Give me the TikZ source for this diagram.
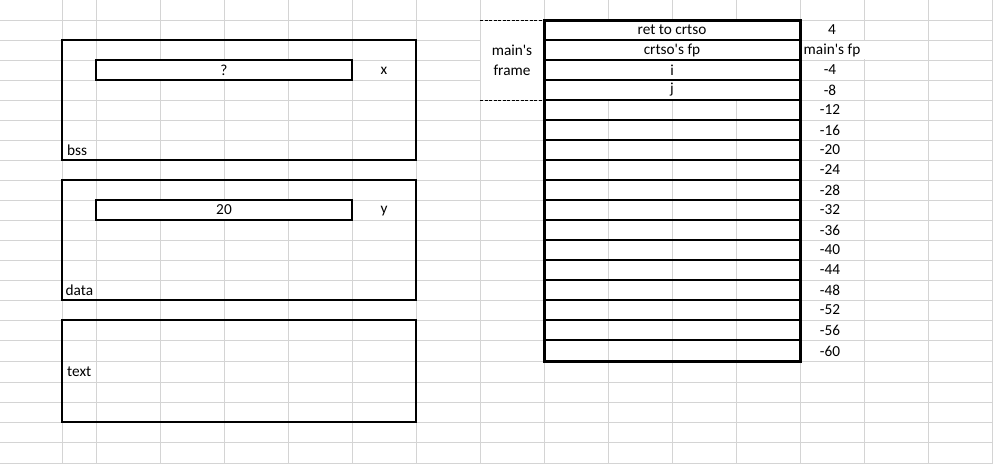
\documentclass[tikz,border=0pt]{standalone}
\usepackage{fontspec}
\newfontfamily\xlfont{Carlito}
\definecolor{gridgray}{RGB}{212,212,212}
\begin{document}
\begin{tikzpicture}[x=1pt,y=-1pt,
  gridline/.style={draw=gridgray,line width=1pt},
  thinbox/.style={draw=black,line width=1.2pt},
  thickbox/.style={draw=black,line width=3pt},
  cell/.style={inner sep=0pt,font=\xlfont\fontsize{15.3}{17}\selectfont,text=black},
  lbl/.style={cell,anchor=west},
  dashline/.style={draw=black,line width=1pt,dash pattern=on 3pt off 1.5pt}]
\useasboundingbox (0,0) rectangle (993,464);
\fill[white] (0,0) rectangle (993,464);
% spreadsheet grid
\foreach \gx in {62,96,160,224,288,352,416,480,544,608,672,736,800,864,928,992}
  \draw[gridline] (\gx,0) -- (\gx,464);
\foreach \gy in {20,40,60,80,100,120,140,160,180,200,220,240,260,280,300,320,340,361,382,402,422,442,463}
  \draw[gridline] (0,\gy) -- (993,\gy);
% merged cells (hide grid inside)
\fill[white] (481,20.6) rectangle (543,99.4);
\fill[white] (545,20.6) rectangle (799,99.4);
\fill[white] (863,40.6) rectangle (865,59.4);
\fill[white] (96,60) rectangle (352,80);
\fill[white] (96,200) rectangle (352,220);

% bss segment
\draw[thinbox] (62,40) rectangle (416,160);
\draw[thinbox] (96,60) rectangle (352,80);
\node[cell] (qv) at (224,70) {?};
\node[cell] (xn) at (384,71) {x};
\node[lbl] (bss) at (67,150) {bss};

% data segment
\draw[thinbox] (62,180) rectangle (416,300);
\draw[thinbox] (96,200) rectangle (352,220);
\node[cell] (yv) at (224,210) {20};
\node[cell] (yn) at (384,211) {y};
\node[lbl] (data) at (65.5,290) {data};

% text segment
\draw[thinbox] (62,320) rectangle (416,422);
\node[lbl] (txt) at (67,372) {text};

% stack
\foreach \ry in {40,60,80,100,120,140,160,180,200,220,240,260,280,300,320,340}
  \draw[draw=black,line width=1.2pt] (544,\ry) -- (800,\ry);
\draw[thickbox] (544,20) rectangle (800,361);
\node[cell] (ret) at (672,30) {ret to crtso};
\node[cell] (cfp) at (672,50) {crtso's fp};
\node[cell] (vi) at (672,70) {i};
\node[cell] (vj) at (672,90) {j};

% main's frame
\coordinate (fa) at (480,20);
\coordinate (fb) at (544,20);
\coordinate (fc) at (480,100);
\coordinate (fd) at (544,100);
\draw[dashline] (fa) -- (fb);
\draw[dashline] (fc) -- (fd);
\node[cell] (mf1) at (512,50) {main's};
\node[cell] (mf2) at (512,70) {frame};

% offsets
\node[cell] (o1) at (832,30) {4};
\node[cell] (o2) at (832,50) {main's fp};
\foreach \v [count=\k from 3] in {-4,-8,-12,-16,-20,-24,-28,-32,-36,-40,-44,-48,-52,-56,-60}
  \node[cell] (o\k) at (830,{30+20*(\k-1)+(\k>16?1:0)}) {\v};
\end{tikzpicture}
\end{document}
